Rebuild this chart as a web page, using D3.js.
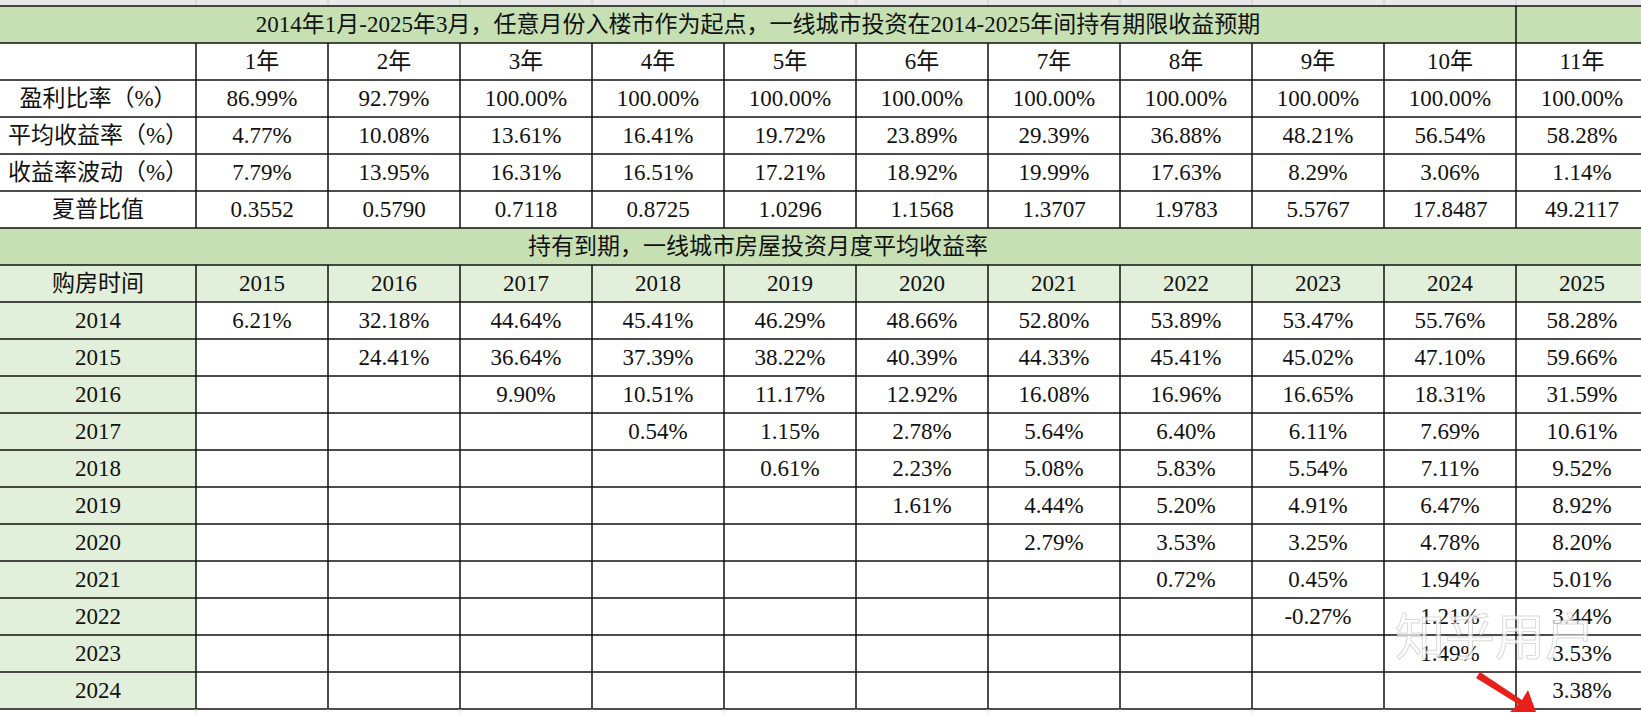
<!DOCTYPE html>
<html><head><meta charset="utf-8">
<script src="https://cdn.jsdelivr.net/npm/d3@7"></script>
<style>body{margin:0;background:#fff;overflow:hidden}</style>
</head><body>
<svg id="c" width="1641" height="713"></svg>
<script>
const title1 = "2014年1月-2025年3月，任意月份入楼市作为起点，一线城市投资在2014-2025年间持有期限收益预期";
const title2 = "持有到期，一线城市房屋投资月度平均收益率";
const holdYears = ["1年","2年","3年","4年","5年","6年","7年","8年","9年","10年","11年"];
const statNames = ["盈利比率（%）","平均收益率（%）","收益率波动（%）","夏普比值"];
const profitRatio = ["86.99%","92.79%","100.00%","100.00%","100.00%","100.00%","100.00%","100.00%","100.00%","100.00%","100.00%"];
const avgReturn = ["4.77%","10.08%","13.61%","16.41%","19.72%","23.89%","29.39%","36.88%","48.21%","56.54%","58.28%"];
const volatility = ["7.79%","13.95%","16.31%","16.51%","17.21%","18.92%","19.99%","17.63%","8.29%","3.06%","1.14%"];
const sharpe = ["0.3552","0.5790","0.7118","0.8725","1.0296","1.1568","1.3707","1.9783","5.5767","17.8487","49.2117"];
const sellYears = ["2015","2016","2017","2018","2019","2020","2021","2022","2023","2024","2025"];
const buyYears = ["2014","2015","2016","2017","2018","2019","2020","2021","2022","2023","2024"];
const r2014 = ["6.21%","32.18%","44.64%","45.41%","46.29%","48.66%","52.80%","53.89%","53.47%","55.76%","58.28%"];
const r2015 = ["24.41%","36.64%","37.39%","38.22%","40.39%","44.33%","45.41%","45.02%","47.10%","59.66%"];
const r2016 = ["9.90%","10.51%","11.17%","12.92%","16.08%","16.96%","16.65%","18.31%","31.59%"];
const r2017 = ["0.54%","1.15%","2.78%","5.64%","6.40%","6.11%","7.69%","10.61%"];
const r2018 = ["0.61%","2.23%","5.08%","5.83%","5.54%","7.11%","9.52%"];
const r2019 = ["1.61%","4.44%","5.20%","4.91%","6.47%","8.92%"];
const r2020 = ["2.79%","3.53%","3.25%","4.78%","8.20%"];
const r2021 = ["0.72%","0.45%","1.94%","5.01%"];
const r2022 = ["-0.27%","1.21%","3.44%"];
const r2023 = ["1.49%","3.53%"];
const r2024 = ["3.38%"];
const matrix = [r2014,r2015,r2016,r2017,r2018,r2019,r2020,r2021,r2022,r2023,r2024];

const svg = d3.select("#c");
const labelW = 196, colW = 132;
const x = d3.scaleBand().domain(d3.range(11)).range([labelW, labelW + 11*colW]);
const rowH = 37;
const ry = i => 6 + i*rowH;
const font = "'Liberation Serif','Noto Sans CJK SC',serif";
const G1 = "#c6e0b4", G2 = "#e2efda";

svg.append("rect").attr("width",1641).attr("height",713).attr("fill","#fff");
svg.append("rect").attr("width",1641).attr("height",6).attr("fill","#e9e9e9");
[196,328,460,592,724,856,988,1120,1252,1384,1516].forEach(v=>svg.append("line").attr("x1",v).attr("x2",v).attr("y1",0).attr("y2",6).attr("stroke","#c8c8c8"));

function txt(cx, cy, t) {
  svg.append("text").attr("x",cx).attr("y",cy).attr("text-anchor","middle")
    .attr("dominant-baseline","central").attr("font-family",font).attr("font-size",23).attr("fill","#111").text(t);
}
function rect(x0,y0,w,h,fill){svg.append("rect").attr("x",x0).attr("y",y0).attr("width",w).attr("height",h).attr("fill",fill);}

rect(0, ry(0), 1641, rowH, G1);
txt(758, ry(0)+rowH/2, title1);
holdYears.forEach((h,i)=>txt(x(i)+colW/2, ry(1)+rowH/2, h));
const stats=[profitRatio,avgReturn,volatility,sharpe];
statNames.forEach((n,r)=>{
  txt(labelW/2, ry(2+r)+rowH/2, n);
  stats[r].forEach((v,i)=>txt(x(i)+colW/2, ry(2+r)+rowH/2, v));
});
rect(0, ry(6), 1641, rowH, G1);
txt(758, ry(6)+rowH/2, title2);
rect(0, ry(7), 1641, rowH, G2);
txt(labelW/2, ry(7)+rowH/2, "购房时间");
sellYears.forEach((s,i)=>txt(x(i)+colW/2, ry(7)+rowH/2, s));
buyYears.forEach((b,r)=>{
  rect(0, ry(8+r), labelW, rowH, G2);
  txt(labelW/2, ry(8+r)+rowH/2, b);
  const vals = matrix[r], off = 11 - vals.length;
  vals.forEach((v,i)=>txt(x(off+i)+colW/2, ry(8+r)+rowH/2, v));
});
const L = svg.append("g").attr("stroke","#111").attr("stroke-width",1.5);
for(let i=0;i<=19;i++){ L.append("line").attr("x1",0).attr("x2",1641).attr("y1",ry(i)).attr("y2",ry(i)); }
const vlines=[labelW, ...d3.range(1,11).map(i=>x(i)), x(10)+colW];
vlines.forEach(v=>{
  [[1,6],[7,19]].forEach(([a,b])=>L.append("line").attr("x1",v).attr("x2",v).attr("y1",ry(a)).attr("y2",ry(b)));
});
L.append("line").attr("x1",x(10)).attr("x2",x(10)).attr("y1",ry(0)).attr("y2",ry(1));
vlines.forEach(v=>svg.append("line").attr("x1",v).attr("x2",v).attr("y1",ry(19)).attr("y2",713).attr("stroke","#ddd"));

// watermark
svg.append("text").attr("x",1395).attr("y",655).attr("font-family","'Noto Sans CJK SC'").attr("font-size",50)
  .attr("fill","#fff").attr("fill-opacity",0.7).attr("stroke","#aaa").attr("stroke-opacity",0.45).text("知乎用户");
svg.append("path").attr("d","M1480,672 L1522,700 L1528,690 L1536,712 L1510,712 L1518,704 L1476,678 Z").attr("fill","#e8201a");
</script>
</body></html>
